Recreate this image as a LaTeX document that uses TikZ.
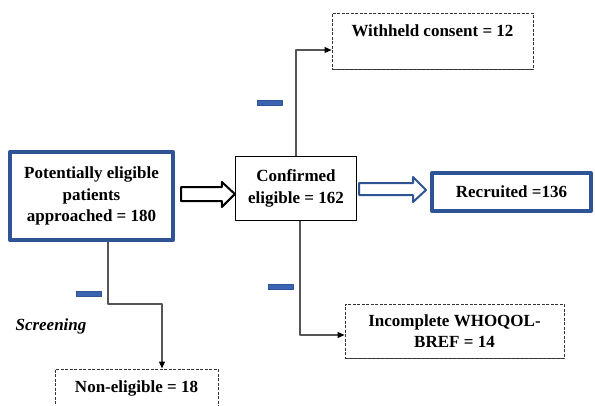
\documentclass[tikz,border=0pt]{standalone}
\usepackage{fontspec}
\setmainfont{Liberation Serif}
\usetikzlibrary{calc,arrows.meta,shadows}
\definecolor{boxblue}{RGB}{46,84,150}
\definecolor{markblue}{RGB}{58,100,178}
\definecolor{linegray}{RGB}{85,85,85}
\begin{document}
\begin{tikzpicture}[x=1pt,y=-1pt,line join=round,>={Triangle[length=7pt,width=6pt,color=black]},
	every node/.style={font=\fontsize{17}{21.5}\selectfont\bfseries,align=center,inner sep=0pt},
	bluebox/.style={draw=boxblue,line width=4pt,fill=white},
	blackbox/.style={draw=black,line width=1.3pt,fill=white,drop shadow={shadow xshift=0.8pt,shadow yshift=-0.8pt,fill=black!80,opacity=1}},
	dashbox/.style={draw=black!80,line width=1pt,dash pattern=on 3pt off 1.5pt,fill=white,drop shadow={shadow xshift=0pt,shadow yshift=-1pt,fill=black!70,opacity=1}},
	link/.style={draw=linegray,line width=1.2pt,->},
	hollow/.style={line width=2pt,fill=white},
	minus/.style={fill=markblue,draw=boxblue,line width=0.5pt,minimum width=25pt,minimum height=5pt}]
	\useasboundingbox (0,0) rectangle (595,405);
	\node[bluebox,minimum width=163pt,minimum height=88pt] (pot) at (91.5,196) {Potentially eligible\\patients\\approached = 180};
	\node[blackbox,minimum width=121pt,minimum height=64pt] (conf) at (296,188.5) {Confirmed\\eligible = 162};
	\node[bluebox,minimum width=159pt,minimum height=38pt] (rec) at (511.5,192) {Recruited =136};
	\node[dashbox,minimum width=201pt,minimum height=56pt] (wh) at (432.5,41) {Withheld consent = 12\\\mbox{}};
	\node[dashbox,minimum width=219pt,minimum height=54pt] (inc) at (454.5,331) {Incomplete WHOQOL-\\BREF = 14};
	\node[dashbox,minimum width=163pt,minimum height=56pt] (non) at (136.5,397) {Non-eligible = 18\\\mbox{}};
	\node[font=\fontsize{17}{21.5}\selectfont\bfseries\itshape] (scr) at (51,326) {Screening};
	\node[minus] (m1) at (269.5,103) {};
	\node[minus] (m2) at (280.5,287) {};
	\node[minus] (m3) at (89,294) {};
	\draw[link] (conf.north) |- ([yshift=-9pt]wh.west);
	\draw[link] ([xshift=4pt]conf.south) |- ([yshift=-4pt]inc.west);
	\draw[link] ([xshift=16.5pt]pot.south) -- ++(0,62) -| ([xshift=25.5pt]non.north);
	\draw[hollow] let \p1=(pot.east),\p2=(conf.west) in (\x1+6pt,\y1+9pt) -- (\x2-13pt,\y1+9pt) -- (\x2-13pt,\y1+14pt) -- (\x2,\y1+2pt) -- (\x2-13pt,\y1-11pt) -- (\x2-13pt,\y1-5pt) -- (\x1+6pt,\y1-5pt) -- cycle;
	\draw[hollow,draw=boxblue] let \p1=(conf.east),\p2=(rec.west) in (\x1+2pt,\y2+9pt) -- (\x2-17pt,\y2+9pt) -- (\x2-17pt,\y2+15pt) -- (\x2-4pt,\y2+2pt) -- (\x2-17pt,\y2-10pt) -- (\x2-17pt,\y2-3pt) -- (\x1+2pt,\y2-3pt) -- cycle;
\end{tikzpicture}
\end{document}
